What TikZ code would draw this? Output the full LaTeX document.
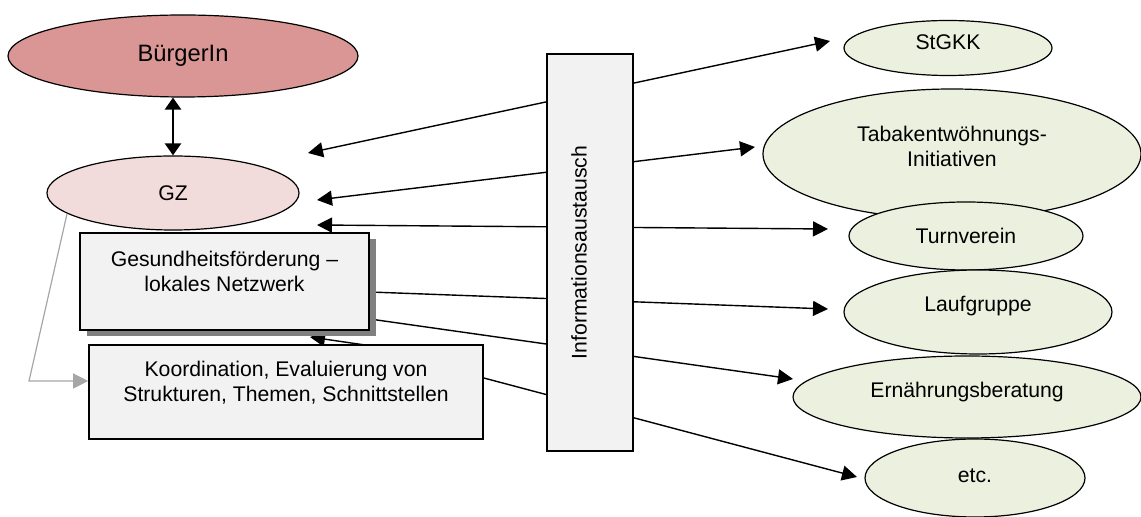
\documentclass[tikz,border=0pt]{standalone}
\usepackage{fontspec}
\setmainfont{Liberation Sans}
\usetikzlibrary{shapes,arrows.meta,backgrounds,shadows,calc}
\definecolor{buerger}{HTML}{D99694}
\definecolor{gzfill}{HTML}{F2DCDB}
\definecolor{partner}{HTML}{EBF1DE}
\definecolor{boxfill}{HTML}{F2F2F2}
\definecolor{linkgray}{HTML}{A6A6A6}
\tikzset{oval/.style={draw,ellipse,inner sep=0pt,align=center,line width=0.6pt}}
\tikzset{block/.style={draw,rectangle,fill=boxfill,align=center,inner sep=0pt,line width=0.8pt}}
\tikzset{arr/.style={line width=0.7pt,-{Triangle[length=7.5pt,width=7.5pt]}}}
\tikzset{darr/.style={line width=0.7pt,{Triangle[length=7.5pt,width=7.5pt]}-{Triangle[length=7.5pt,width=7.5pt]}}}
\tikzset{grayarr/.style={line width=0.6pt,linkgray,-{Triangle[length=7.5pt,width=7.5pt]}}}

\begin{document}
\begin{tikzpicture}[x=0.5pt,y=-0.5pt,font=\fontsize{10.6}{12.5}\selectfont]
    \useasboundingbox (0,0) rectangle (1141,517);

    % left side
    \node [oval,fill=buerger,minimum width=175pt,minimum height=41pt,font=\fontsize{11.85}{14}\selectfont,text depth=3pt] (buerger) at (183,56) {BürgerIn};
    \node [oval,fill=gzfill,minimum width=126pt,minimum height=37pt] (gz) at (173,193) {GZ};

    %boxes
    \node [block,minimum width=144.5pt,minimum height=48.5pt,
           drop shadow={shadow xshift=3.5pt,shadow yshift=-3pt,fill=black!50,opacity=1}]
           (netz) at (224.5,281.5) {Gesundheitsförderung --\\lokales Netzwerk\\[-2pt]\mbox{}};
    \node [block,minimum width=197pt,minimum height=47pt] (koord) at (286,392)
           {Koordination, Evaluierung von\\Strukturen, Themen, Schnittstellen\\[-2pt]\mbox{}};
    \node [block,rotate=90,minimum width=198.5pt,minimum height=43pt,text height=8pt,text depth=11.4pt]
           (info) at (590,252.5) {Informationsaustausch};

    % right side
    \node [oval,fill=partner,minimum width=104pt,minimum height=27.5pt,text depth=6pt] (stgkk) at (948,48) {StGKK};
    \node [oval,fill=partner,minimum width=189pt,minimum height=65pt] (tabak) at (952,154) {Tabakentwöhnungs-\\Initiativen\\[-4.5pt]\mbox{}};
    \node [oval,fill=partner,minimum width=117pt,minimum height=34pt] (turn) at (966,236) {Turnverein};
    \node [oval,fill=partner,minimum width=134pt,minimum height=42pt,text depth=8pt] (lauf) at (978,312) {Laufgruppe};
    \node [oval,fill=partner,minimum width=174pt,minimum height=41pt,text depth=7pt] (ern) at (967,397) {Ernährungsberatung};
    \node [oval,fill=partner,minimum width=110pt,minimum height=39pt,text depth=2pt] (etc) at (975,478) {etc.};

    %free ends
    \coordinate (gzA) at (308,153);
    \coordinate (gzB) at (317,200);
    \coordinate (gzC) at (317,225);
    \coordinate (netzD) at (310,337);
    \coordinate (koordD) at (420,353);
    \coordinate (toStgkk) at (830,41);
    \coordinate (toTabak) at (755,147);
    \coordinate (toTurn) at (828,229);
    \coordinate (toLauf) at (828,309);
    \coordinate (toErn) at (793,379);
    \coordinate (toEtc) at (857,477);
    \coordinate (bend) at (29,381);

    \begin{scope}[on background layer]
    %through the info box
    \draw [darr] (gzA) -- (toStgkk);
    \draw [darr] (gzB) -- (toTabak);
    \draw [darr] (gzC) -- (toTurn);
    \draw [arr] ($(netz.east)+(0,10.5)$) -- (toLauf);
    \draw [arr] ($(netz.east)+(0,37.5)$) -- (toErn);
    \draw [arr] ($(koord.east)+(0,-14)$) -- (toEtc);
    \draw [arr] (koordD) -- (netzD);
    \end{scope}

    %BuergerIn - GZ
    \draw [line width=1.25pt,{Triangle[length=6pt,width=8pt]}-{Triangle[length=6pt,width=8pt]}] (buerger.south -| gz.north) -- (gz.north);

    %gray link
    \draw [grayarr] (gz.191) -- (bend) -- (bend -| koord.west);
\end{tikzpicture}
\end{document}
